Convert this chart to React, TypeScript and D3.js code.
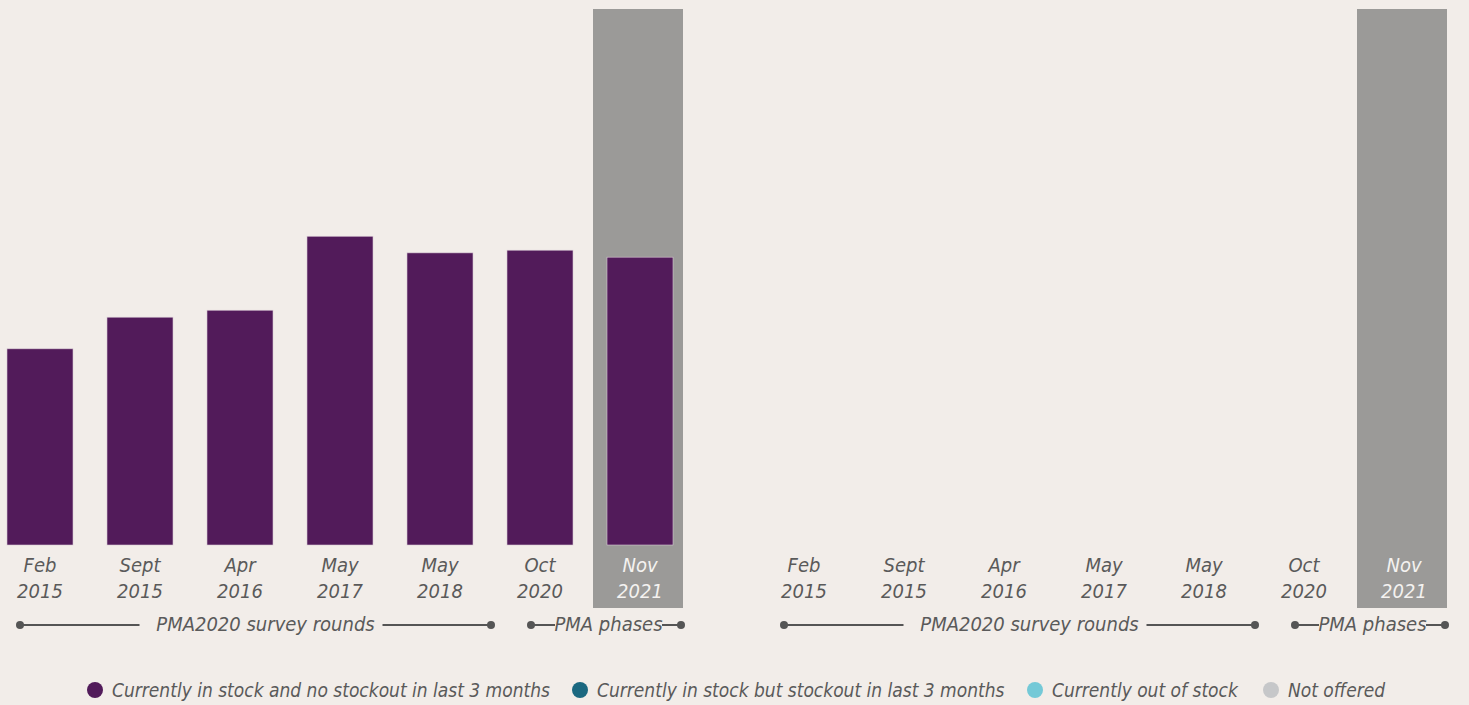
import React, { useEffect } from 'react';
import * as d3 from 'd3';

const months = ['Feb', 'Sept', 'Apr', 'May', 'May', 'Oct', 'Nov'];
const years = ['2015', '2015', '2016', '2017', '2018', '2020', '2021'];
// % currently in stock and no stockout in last 3 months
const inStockLeft = [36.6, 42.5, 43.8, 57.6, 54.5, 55.0, 53.7];
const inStockRight = [0, 0, 0, 0, 0, 0, 0];
const highlightIndex = 6;

const legendLabels = [
  'Currently in stock and no stockout in last 3 months',
  'Currently in stock but stockout in last 3 months',
  'Currently out of stock',
  'Not offered',
];
const legendColors = ['#521b5a', '#1b6880', '#74c9d7', '#c6c7c9'];

const W = 1469;
const H = 705;
const FONT = "'Liberation Sans Narrow', 'Arial Narrow', 'DejaVu Sans Condensed', sans-serif";
const TEXT = '#5a5a5a';
const LINE = '#555555';

function Panel({ x0, x1, values }: { x0: number; x1: number; values: number[] }) {
  const x = d3.scaleBand<number>()
    .domain(d3.range(months.length))
    .range([x0, x1])
    .paddingInner(0.34)
    .paddingOuter(0.17);
  const y = d3.scaleLinear().domain([0, 100]).range([545, 9]);
  const step = x.step();
  const cx = (i: number) => x(i)! + x.bandwidth() / 2;
  const hx = cx(highlightIndex) - 2;

  // bracket positions
  const b1a = cx(0) - 20;
  const b1b = cx(4) + 51;
  const b2a = cx(5) - 9;
  const b2b = cx(6) + 41;

  return (
    <g>
      <rect x={hx - step * 0.45} y={9} width={step * 0.9} height={599} fill="#9b9a98" />
      {values.map((v, i) => v > 0 && (
        <rect key={i} x={x(i)} y={y(v)} width={x.bandwidth()} height={y(0) - y(v)}
          fill={legendColors[0]} stroke="#d8c8d4" strokeWidth={0.6} />
      ))}
      {months.map((m, i) => (
        <text key={i} x={cx(i)} textAnchor="middle" fontFamily={FONT} fontStyle="italic"
          fontSize={20} fill={i === highlightIndex ? '#f4f2f0' : TEXT}>
          <tspan x={cx(i)} y={572}>{m}</tspan>
          <tspan x={cx(i)} y={598}>{years[i]}</tspan>
        </text>
      ))}
      {/* PMA2020 survey rounds bracket */}
      <circle cx={b1a} cy={625} r={4} fill={LINE} />
      <circle cx={b1b} cy={625} r={4} fill={LINE} />
      <line x1={b1a} x2={(b1a + b1b) / 2 - 116} y1={625} y2={625} stroke={LINE} strokeWidth={2} />
      <line x1={(b1a + b1b) / 2 + 127} x2={b1b} y1={625} y2={625} stroke={LINE} strokeWidth={2} />
      <text x={(b1a + b1b) / 2 + 10} y={631} textAnchor="middle" fontFamily={FONT} fontStyle="italic"
        fontSize={20} fill={TEXT}>PMA2020 survey rounds</text>
      {/* PMA phases bracket */}
      <circle cx={b2a} cy={625} r={4} fill={LINE} />
      <circle cx={b2b} cy={625} r={4} fill={LINE} />
      <line x1={b2a} x2={b2a + 24} y1={625} y2={625} stroke={LINE} strokeWidth={2} />
      <line x1={b2b - 19} x2={b2b} y1={625} y2={625} stroke={LINE} strokeWidth={2} />
      <text x={(b2a + 24 + b2b - 19) / 2} y={631} textAnchor="middle" fontFamily={FONT} fontStyle="italic"
        fontSize={20} fill={TEXT}>PMA phases</text>
    </g>
  );
}

export default function App() {
  useEffect(() => {
    document.body.style.margin = '0';
  }, []);

  const legendX = [95, 580, 1035, 1271];

  return (
    <svg width={W} height={H} style={{ display: 'block', background: '#f2ede9' }}>
      <rect width={W} height={H} fill="#f2ede9" />
      <Panel x0={-10} x1={690} values={inStockLeft} />
      <Panel x0={754} x1={1454} values={inStockRight} />
      {legendLabels.map((l, i) => (
        <g key={i}>
          <circle cx={legendX[i]} cy={690} r={8} fill={legendColors[i]} />
          <text x={legendX[i] + 17} y={697} fontFamily={FONT} fontStyle="italic" fontSize={19} fill={TEXT}>{l}</text>
        </g>
      ))}
    </svg>
  );
}
